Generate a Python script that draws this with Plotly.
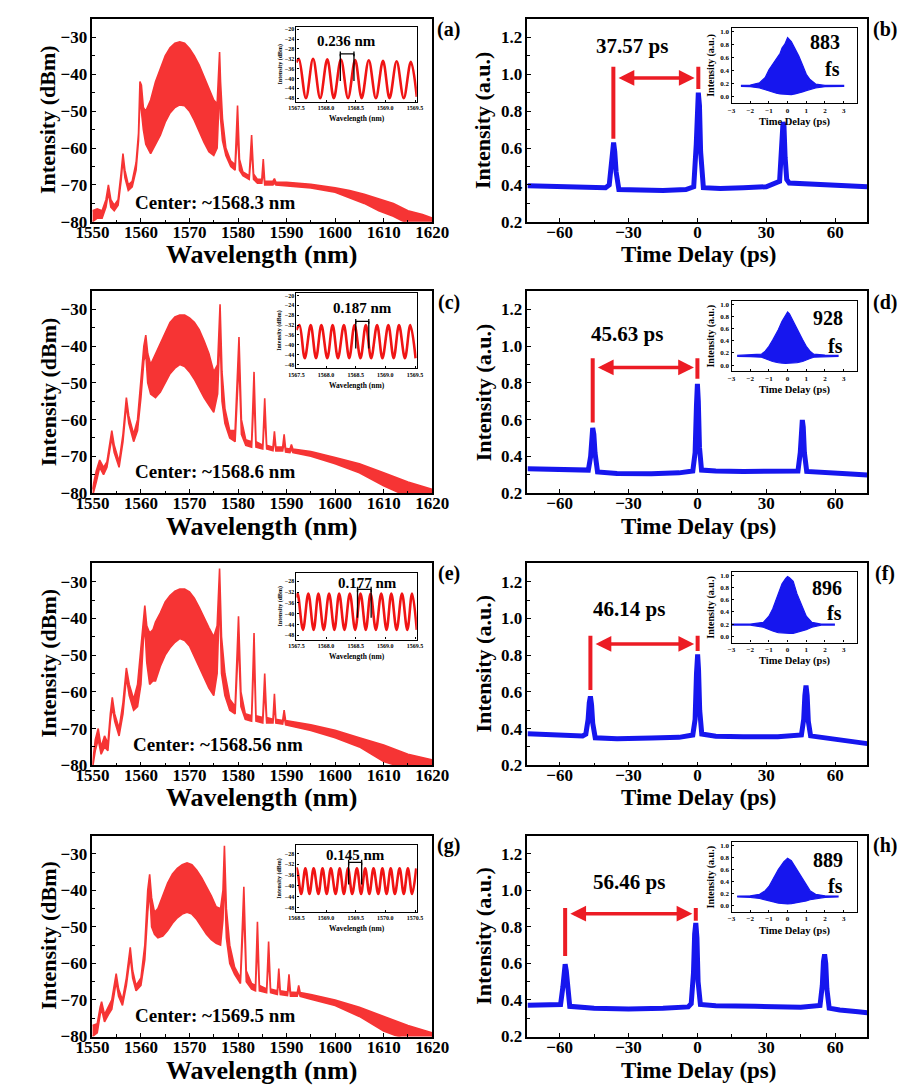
import plotly.graph_objects as go

W, H = 910, 1088
FONT = "Liberation Serif, Times New Roman, DejaVu Serif, serif"
RED = "rgb(246,52,52)"
IRED = "rgb(240,20,20)"
BLUE = "rgb(22,22,238)"
ARED = "rgb(236,28,36)"

# ---------------- spectra (envelopes of the fringe-filled traces) ----------------
wl_a = [1550, 1551, 1552, 1552.8, 1553.3, 1553.8, 1554.5, 1555.3, 1555.9, 1556.3, 1556.7, 1557.4, 1558.2, 1559.0,
        1559.5, 1559.8, 1560.1, 1560.5, 1561, 1562, 1563, 1564, 1565, 1566, 1567, 1568, 1569, 1570, 1571, 1572,
        1573, 1574, 1575, 1575.7, 1576.0, 1576.2, 1576.4, 1576.8, 1577.5, 1578.5, 1579.4, 1579.9, 1580.3, 1581,
        1582.3, 1582.8, 1583.2, 1584, 1584.9, 1585.2, 1585.5, 1587.2, 1587.5, 1587.8, 1590, 1595, 1600, 1603,
        1606, 1609, 1612, 1615, 1618, 1620]
up_a = [-77, -76.5, -77, -74, -70, -74, -75.5, -74, -67, -61.5, -66, -70, -69, -64,
        -56, -42, -43, -49, -50, -47, -42, -38.5, -35, -32.8, -31.6, -31.2, -31.6, -33, -35, -37.5,
        -40.5, -43.5, -47, -48, -40, -34, -42, -52, -60, -63.5, -64.5, -48.5, -63, -66.5,
        -67.5, -56.5, -67, -68.5, -68.5, -63, -69, -69, -68.3, -69.2, -69.3, -69.8, -70.8, -71.5,
        -72.5, -73.8, -75, -77, -78, -79]
lo_a = [-80, -79, -79, -76, -72, -76, -77, -75.5, -69, -63, -68, -71.5, -70.5, -66,
        -58, -46, -50, -55, -59, -61.5, -59, -56.5, -53, -50.5, -49, -48.3, -48.5, -50, -52.5, -55.5,
        -58.5, -61, -62, -60, -50, -42, -52, -58, -62, -65, -66, -55, -66, -67.5,
        -68.5, -60, -68.5, -69.5, -69.5, -66, -70, -70, -69.5, -70, -70.2, -70.8, -72, -73.5,
        -75, -77, -78.5, -80.5, -81, -81]

wl_c = [1550, 1550.8, 1551.5, 1552.3, 1553, 1553.6, 1554, 1554.5, 1555.5, 1556.3, 1557, 1557.5, 1558.5, 1559.3,
        1560, 1560.6, 1561, 1561.4, 1562, 1563, 1564, 1565, 1566, 1567, 1568, 1569, 1570, 1571, 1572, 1573,
        1574, 1575, 1575.8, 1576.3, 1576.7, 1577.3, 1578.3, 1579.4, 1580.2, 1580.7, 1581.6, 1582.8, 1583.3,
        1583.7, 1585.1, 1585.5, 1585.9, 1587.2, 1587.5, 1587.8, 1589.2, 1589.5, 1589.8, 1590.7, 1591, 1591.3,
        1595, 1600, 1605, 1610, 1615, 1620]
up_c = [-79, -74, -71, -73, -71.5, -66, -63, -67, -71.5, -64, -54, -59, -64, -60,
        -50, -40, -37, -42, -45, -42, -39, -36, -33.5, -32, -31.5, -31.5, -32.3, -33.5, -35.5, -38.5,
        -42, -47, -45, -28.6, -47, -57, -63, -63, -37.5, -60, -65.5, -66, -47,
        -66, -67, -54.2, -67, -67.5, -63.2, -67.5, -67.5, -64, -67.8, -68, -66.8, -68,
        -68.7, -70.3, -72, -74.5, -77, -79]
lo_c = [-81, -77, -73, -75, -73, -68, -65, -69, -73, -66, -56, -61, -66, -63,
        -54, -44, -42, -50, -53, -54, -52.5, -50, -47.5, -46, -45, -45.5, -47, -49, -51.5, -54,
        -56, -58, -53, -36, -55, -61, -65, -66, -44, -64, -67, -67.5, -53,
        -67.5, -68, -58, -68, -68.5, -65, -68.5, -68.5, -66, -68.8, -69, -68, -69,
        -70, -72, -74.5, -78, -81, -81]

wl_e = [1550, 1550.6, 1551.2, 1551.8, 1552.5, 1553.2, 1553.7, 1554.1, 1554.6, 1555.5, 1556.3, 1557, 1557.6,
        1558.5, 1559.3, 1560, 1560.5, 1560.8, 1561.2, 1561.8, 1562.5, 1563, 1564, 1565, 1566, 1567, 1568,
        1569, 1570, 1571, 1572, 1573, 1574, 1575, 1575.7, 1576.2, 1576.6, 1577.3, 1578.3, 1579.4, 1580.1,
        1580.6, 1581.5, 1582.8, 1583.3, 1583.7, 1585.1, 1585.5, 1585.9, 1587.2, 1587.5, 1587.8, 1589.2,
        1589.5, 1589.8, 1595, 1600, 1605, 1610, 1615, 1620]
up_e = [-80, -73, -70, -75, -72, -74, -66, -61.5, -66, -70, -63, -53.5, -58,
        -62, -58, -48, -39, -36.5, -42, -44, -43, -41, -38.5, -35.5, -33.8, -32.6, -32,
        -32, -32.8, -34.5, -37, -40, -42.5, -45, -42, -26.4, -45, -55, -62, -64, -39.4,
        -60, -66, -66.5, -44, -66.5, -67, -55, -67, -67.5, -60.5, -67.5, -67.8,
        -65, -67.8, -69, -70.5, -72.5, -74.5, -77, -78.5]
lo_e = [-81, -76, -73, -77, -75, -76, -68, -64, -68, -72, -66, -56, -61,
        -65, -64, -58, -46, -42, -52, -58, -57, -57, -53, -50, -48, -46.5, -45.5,
        -46, -47.5, -50, -53, -56, -59, -61, -55, -34, -55, -61, -65, -66, -46,
        -64, -67.5, -68, -50, -68, -68.5, -59, -68.5, -68.5, -63, -68.5, -68.8,
        -66.5, -69, -70.5, -72.5, -75, -79, -81, -81]

wl_g = [1550, 1551, 1551.6, 1551.9, 1552.5, 1553.3, 1554, 1554.9, 1555.4, 1556.2, 1557, 1557.8, 1558.3, 1559,
        1560, 1560.8, 1561.4, 1561.8, 1562.2, 1562.8, 1563.5, 1564.5, 1565.5, 1566.5, 1567.5, 1568.5, 1569.5,
        1570.5, 1571.5, 1572.5, 1573.5, 1574.5, 1575.5, 1576.4, 1576.9, 1577.2, 1577.6, 1578.3, 1579.3,
        1580.5, 1581.2, 1581.7, 1582.8, 1583.6, 1584, 1584.4, 1585.9, 1586.3, 1586.7, 1588.1, 1588.4, 1588.7,
        1590.2, 1590.5, 1590.8, 1592.2, 1592.5, 1592.8, 1595, 1600, 1605, 1610, 1615, 1620]
up_g = [-77, -76.5, -72, -70.5, -74, -72, -70, -62.8, -67, -70, -64, -55.6, -62, -66,
        -64, -55, -40, -35.6, -42, -46, -45, -41.5, -38, -35.5, -34, -33, -32.5,
        -33, -34.5, -36.5, -39, -41.5, -44.5, -45, -40, -27.8, -45, -55, -61,
        -64, -39, -62, -65.5, -66, -48.6, -66, -67, -54, -67, -67.5, -61.4, -67.5,
        -67.8, -63, -67.8, -68, -66, -68, -68.5, -70, -72, -74.5, -77, -79]
lo_g = [-80, -79, -74, -72.5, -76, -74, -72.5, -65, -69, -71.5, -66, -58, -64, -67.5,
        -66, -59, -46, -40, -50, -52, -53, -52.5, -51, -49, -47.5, -46.5, -46,
        -46.5, -48, -50, -52, -53.5, -54.5, -55, -48, -36, -53, -60, -63,
        -65.5, -45, -65, -67, -67.5, -54, -67.5, -68, -58, -68, -68.5, -64, -68.5,
        -68.8, -65.5, -69, -69, -67.5, -69, -69.8, -71.5, -74.5, -78.5, -81, -81]

# ---------------- inset fringe spectra ----------------
fr_a_x = [1567.50, 1567.54, 1567.66, 1567.78, 1567.90, 1568.02, 1568.13, 1568.25, 1568.37, 1568.49,
          1568.60, 1568.72, 1568.84, 1568.96, 1569.07, 1569.19, 1569.31, 1569.43, 1569.53]
fr_a_y = [-33.5, -32.0, -48.0, -32.0, -48.0, -32.2, -48.0, -32.3, -48.0, -32.5,
          -48.0, -32.6, -48.0, -32.8, -48.0, -33.0, -48.0, -33.2, -47.5]
fr_c_x = [1567.50, 1567.55, 1567.64, 1567.74, 1567.83, 1567.92, 1568.02, 1568.11, 1568.20, 1568.30, 1568.39,
          1568.48, 1568.58, 1568.67, 1568.76, 1568.86, 1568.95, 1569.05, 1569.14, 1569.23, 1569.33, 1569.42,
          1569.51]
fr_c_y = [-34.0, -32.0, -45.5, -32.0, -45.5, -32.0, -45.5, -32.0, -45.5, -32.0, -45.5,
          -32.0, -45.5, -32.0, -45.5, -32.0, -45.5, -32.0, -45.5, -32.0, -45.5, -32.0, -45.5]
fr_e_x = [1567.50, 1567.52, 1567.61, 1567.70, 1567.79, 1567.87, 1567.96, 1568.05, 1568.14, 1568.22, 1568.31,
          1568.40, 1568.49, 1568.58, 1568.67, 1568.75, 1568.84, 1568.93, 1569.02, 1569.10, 1569.19, 1569.28,
          1569.37, 1569.45, 1569.53]
fr_e_y = [-34.0, -32.5, -46.0, -32.5, -46.0, -32.5, -46.0, -32.5, -46.0, -32.5, -46.0,
          -32.5, -46.0, -32.5, -46.0, -32.5, -46.0, -32.5, -46.0, -32.5, -46.0, -32.5,
          -46.0, -32.5, -46.0]
fr_g_x = [1568.50, 1568.51, 1568.58, 1568.65, 1568.72, 1568.79, 1568.87, 1568.94, 1569.01, 1569.08, 1569.16,
          1569.23, 1569.30, 1569.37, 1569.44, 1569.52, 1569.59, 1569.66, 1569.73, 1569.80, 1569.88, 1569.95,
          1570.02, 1570.09, 1570.16, 1570.24, 1570.31, 1570.38, 1570.45, 1570.52]
fr_g_y = [-34.0, -33.5, -43.0, -33.5, -43.0, -33.5, -43.0, -33.5, -43.0, -33.5, -43.0,
          -33.5, -43.0, -33.5, -43.0, -33.5, -43.0, -33.5, -43.0, -33.5, -43.0, -33.5,
          -43.0, -33.5, -43.0, -33.5, -43.0, -33.5, -43.0, -33.5]

# bracket: [x_left, x_right, y_bar, y_bottom]; label text, label position
br_a = [1568.24, 1568.47, -30.0, -41.0]
br_c = [1568.50, 1568.72, -30.5, -41.5]
br_e = [1568.53, 1568.76, -31.0, -41.5]
br_g = [1569.38, 1569.60, -31.3, -39.5]
fsr_labels = ["0.236 nm", "0.187 nm", "0.177 nm", "0.145 nm"]
fsr_pos = [(1568.35, -24.8), (1568.62, -25.2), (1568.70, -28.6), (1569.50, -28.4)]
center_labels = ["Center: ~1568.3 nm", "Center: ~1568.6 nm", "Center: ~1568.56 nm", "Center: ~1569.5 nm"]
center_pos = [(1575.2, -74.8), (1575.3, -74.2), (1575.9, -74.4), (1575.3, -74.2)]

# ---------------- autocorrelation traces ----------------
t_b = [-74, -60, -50, -40, -38.4, -37.4, -36.9, -36.5, -36.0, -35.4, -34.2, -25, -15, -5, -1.6, -0.5, 0.0, 0.4,
       0.9, 1.4, 2.6, 10, 20, 30, 35.8, 36.8, 37.3, 37.7, 38.2, 38.9, 40, 50, 60, 74]
I_b = [0.395, 0.392, 0.39, 0.385, 0.40, 0.52, 0.60, 0.63, 0.58, 0.47, 0.375, 0.37, 0.37, 0.375, 0.39, 0.62, 0.86,
       0.90, 0.83, 0.58, 0.385, 0.38, 0.385, 0.39, 0.42, 0.62, 0.74, 0.72, 0.55, 0.43, 0.41, 0.405, 0.40, 0.39]
t_d = [-74, -60, -50, -47.5, -46.5, -46.0, -45.6, -45.1, -44.6, -43.5, -35, -20, -8, -2, -1, -0.4, 0, 0.4, 0.9,
       1.8, 8, 20, 35, 43.8, 44.8, 45.3, 45.7, 46.1, 46.6, 47.6, 55, 65, 74]
I_d = [0.332, 0.325, 0.32, 0.325, 0.40, 0.50, 0.555, 0.52, 0.42, 0.315, 0.307, 0.305, 0.31, 0.32, 0.42, 0.68,
       0.795, 0.70, 0.45, 0.325, 0.32, 0.318, 0.318, 0.32, 0.42, 0.55, 0.598, 0.56, 0.42, 0.318, 0.31, 0.305, 0.298]
t_f = [-74, -60, -50, -48.6, -47.6, -47.1, -46.6, -46.1, -45.6, -44.5, -35, -20, -8, -2, -1, -0.4, 0.1, 0.5, 1.0,
       1.9, 8, 20, 35, 45.3, 46.3, 46.8, 47.3, 47.8, 48.3, 49.3, 55, 65, 74]
I_f = [0.372, 0.365, 0.36, 0.37, 0.45, 0.54, 0.575, 0.53, 0.43, 0.35, 0.345, 0.348, 0.352, 0.365, 0.45, 0.70,
       0.804, 0.72, 0.50, 0.37, 0.358, 0.356, 0.355, 0.365, 0.45, 0.58, 0.634, 0.58, 0.44, 0.36, 0.35, 0.33, 0.318]
t_h = [-74, -65, -59.6, -58.6, -58.1, -57.6, -57.1, -56.6, -55.6, -45, -30, -15, -4, -2.7, -1.7, -1.2, -0.7,
       -0.2, 0.3, 1.3, 8, 25, 45, 53.4, 54.4, 54.9, 55.4, 55.9, 56.4, 57.4, 62, 70, 74]
I_h = [0.371, 0.37, 0.375, 0.47, 0.57, 0.596, 0.56, 0.46, 0.365, 0.355, 0.35, 0.355, 0.362, 0.38, 0.55, 0.76,
       0.822, 0.74, 0.5, 0.375, 0.368, 0.365, 0.36, 0.37, 0.48, 0.61, 0.65, 0.6, 0.46, 0.355, 0.345, 0.335, 0.33]

# pulse separation markers: left bar x, [y0,y1]; right bar x, [y0,y1]; arrow y, x_from, x_to
sep_b = dict(lx=-36.6, ly=[0.65, 1.04], rx=0.4, ry=[0.92, 1.04], ay=0.98, ax0=-35.0, ax1=-1.2)
sep_d = dict(lx=-45.6, ly=[0.585, 0.935], rx=0.0, ry=[0.823, 0.935], ay=0.884, ax0=-44.0, ax1=-1.5)
sep_f = dict(lx=-46.6, ly=[0.61, 0.906], rx=0.1, ry=[0.822, 0.906], ay=0.861, ax0=-45.0, ax1=-1.4)
sep_h = dict(lx=-57.6, ly=[0.641, 0.903], rx=-0.7, ry=[0.834, 0.903], ay=0.872, ax0=-56.0, ax1=-2.2)
sep_labels = ["37.57 ps", "45.63 ps", "46.14 ps", "56.46 ps"]
sep_label_pos = [(-28.5, 1.155), (-30.5, 1.065), (-29.8, 1.05), (-29.8, 1.047)]

# ---------------- inset autocorrelation envelopes ----------------
ac_t_b = [-2.5, -2.0, -1.5, -1.2, -1.0, -0.8, -0.6, -0.4, -0.3, -0.15, 0.0, 0.2, 0.4, 0.6, 0.8, 1.0, 1.2, 1.5, 2.0, 2.5, 3.0]
ac_up_b = [0.17, 0.175, 0.21, 0.29, 0.41, 0.50, 0.58, 0.66, 0.74, 0.80, 0.90, 0.84, 0.73, 0.62, 0.48, 0.34, 0.26, 0.19, 0.17, 0.17, 0.17]
ac_lo_b = [0.155, 0.15, 0.13, 0.11, 0.09, 0.07, 0.05, 0.04, 0.035, 0.03, 0.03, 0.03, 0.04, 0.05, 0.07, 0.09, 0.11, 0.13, 0.15, 0.155, 0.155]
ac_t_d = [-2.7, -2.0, -1.4, -1.2, -1.0, -0.8, -0.5, -0.3, -0.1, 0.0, 0.1, 0.3, 0.5, 0.8, 1.0, 1.2, 1.4, 2.0, 2.7]
ac_up_d = [0.16, 0.165, 0.18, 0.23, 0.31, 0.41, 0.58, 0.72, 0.83, 0.87, 0.84, 0.73, 0.60, 0.42, 0.31, 0.23, 0.18, 0.165, 0.16]
ac_lo_d = [0.145, 0.14, 0.13, 0.11, 0.08, 0.06, 0.04, 0.035, 0.03, 0.03, 0.03, 0.035, 0.04, 0.06, 0.08, 0.11, 0.13, 0.14, 0.145]
ac_t_f = [-3.0, -2.0, -1.3, -1.0, -0.8, -0.5, -0.3, -0.1, 0.0, 0.1, 0.3, 0.5, 0.8, 1.0, 1.3, 1.8, 2.5]
ac_up_f = [0.2, 0.2, 0.23, 0.33, 0.45, 0.70, 0.86, 0.95, 0.98, 0.96, 0.90, 0.70, 0.46, 0.33, 0.23, 0.2, 0.2]
ac_lo_f = [0.185, 0.185, 0.15, 0.11, 0.09, 0.06, 0.05, 0.05, 0.05, 0.05, 0.05, 0.06, 0.09, 0.11, 0.15, 0.185, 0.185]
ac_t_h = [-2.7, -2.0, -1.5, -1.2, -1.0, -0.7, -0.5, -0.2, 0.0, 0.2, 0.5, 0.7, 1.0, 1.2, 1.5, 2.0, 2.7]
ac_up_h = [0.16, 0.165, 0.19, 0.25, 0.32, 0.48, 0.60, 0.73, 0.79, 0.75, 0.60, 0.48, 0.33, 0.25, 0.19, 0.165, 0.16]
ac_lo_h = [0.145, 0.14, 0.12, 0.10, 0.08, 0.06, 0.045, 0.035, 0.03, 0.035, 0.045, 0.06, 0.08, 0.10, 0.12, 0.14, 0.145]
fwhm_labels = ["883", "928", "896", "889"]
fwhm_pos = [(2.9, 0.84, 0.42), (3.05, 0.78, 0.32), (3.0, 0.79, 0.39), (3.05, 0.76, 0.33)]
panel_labels = ["(a)", "(b)", "(c)", "(d)", "(e)", "(f)", "(g)", "(h)"]

# ---------------- layout geometry (pixels) ----------------
ROW = [0, 275, 549, 824]
MAIN_L = (70, 423)
MAIN_R = (522, 875)
MAIN_Y = [(10, 215), (285, 489), (560, 764), (835, 1038)]
INS_L_X = (282, 407)
INS_L_Y = [(18, 94), (287, 363), (570, 637), (845, 912)]
INS_R_X = (734, 864)
INS_R_Y = [(19, 95), (295, 366), (569, 640), (842, 912)]

fig = go.Figure()
ann = []
shp = []


def px(x):
    return x / W


def py(y):
    return 1 - y / H


def axname(i):
    return ("xaxis", "yaxis") if i == 1 else (f"xaxis{i}", f"yaxis{i}")


def ref(i):
    return ("x", "y") if i == 1 else (f"x{i}", f"y{i}")


def set_axes(i, xb, yb, xr, yr, xt, yt, tsize, tlen, minor_x=None, minor_y=None, lw=1.5, xstand=0):
    xn, yn = axname(i)
    xr_, yr_ = ref(i)
    tf = dict(family=FONT, size=tsize, color="black", weight="bold")
    common = dict(showgrid=False, zeroline=False, showline=True, linecolor="black", linewidth=lw,
                  mirror=True, ticks="inside", ticklen=tlen, tickwidth=1.2, tickcolor="black", tickfont=tf)
    xa = dict(common, domain=[px(xb[0]), px(xb[1])], range=xr, anchor=yr_, ticklabelstandoff=xstand, **xt)
    ya = dict(common, domain=[py(yb[1]), py(yb[0])], range=yr, anchor=xr_, **yt)
    if minor_x:
        xa["minor"] = dict(ticks="inside", ticklen=tlen * 0.6, dtick=minor_x, tickcolor="black")
    if minor_y:
        ya["minor"] = dict(ticks="inside", ticklen=tlen * 0.6, dtick=minor_y, tickcolor="black")
    fig.layout[xn] = xa
    fig.layout[yn] = ya


def text(x, y, s, size, xref="paper", yref="paper", angle=0, xanchor="center", yanchor="middle"):
    ann.append(dict(x=x, y=y, xref=xref, yref=yref, text=s, showarrow=False, textangle=angle,
                    xanchor=xanchor, yanchor=yanchor,
                    font=dict(family=FONT, size=size, color="black", weight="bold")))


spectra = [(wl_a, up_a, lo_a), (wl_c, up_c, lo_c), (wl_e, up_e, lo_e), (wl_g, up_g, lo_g)]
fringes = [(fr_a_x, fr_a_y), (fr_c_x, fr_c_y), (fr_e_x, fr_e_y), (fr_g_x, fr_g_y)]
brackets = [br_a, br_c, br_e, br_g]
ins_xr = [[1567.5, 1569.53], [1567.5, 1569.53], [1567.5, 1569.53], [1568.5, 1570.53]]
ins_yr = [[-49.6, -19], [-49.6, -19], [-49.6, -25], [-49.6, -25]]
ins_tick0 = [-48, -48, -48, -48]
traces_t = [(t_b, I_b), (t_d, I_d), (t_f, I_f), (t_h, I_h)]
seps = [sep_b, sep_d, sep_f, sep_h]
acs = [(ac_t_b, ac_up_b, ac_lo_b), (ac_t_d, ac_up_d, ac_lo_d), (ac_t_f, ac_up_f, ac_lo_f), (ac_t_h, ac_up_h, ac_lo_h)]

for r in range(4):
    R = ROW[r]
    iS, iSi, iT, iTi = 4 * r + 1, 4 * r + 2, 4 * r + 3, 4 * r + 4

    # ----- spectrum main -----
    wl, up, lo = spectra[r]
    xs, ys = ref(iS)
    fig.add_trace(go.Scatter(x=wl + wl[::-1], y=up + lo[::-1], mode="lines", fill="toself",
                             fillcolor=RED, line=dict(color=RED, width=1.6), xaxis=xs, yaxis=ys,
                             showlegend=False, hoverinfo="skip"))
    set_axes(iS, MAIN_L, MAIN_Y[r], [1550, 1620], [-80, -25],
             dict(tick0=1550, dtick=10), dict(tick0=-80, dtick=10), 17, 4, minor_x=5, minor_y=5, xstand=-6)
    cx, cy = center_pos[r]
    text(cx, cy, center_labels[r], 19, xref=xs, yref=ys)

    # ----- spectrum inset -----
    fx, fy = fringes[r]
    xs2, ys2 = ref(iSi)
    fig.add_trace(go.Scatter(x=fx, y=fy, mode="lines", line=dict(color=IRED, width=2.6, shape="spline", smoothing=1.0),
                             xaxis=xs2, yaxis=ys2, showlegend=False, hoverinfo="skip"))
    set_axes(iSi, INS_L_X, INS_L_Y[r], ins_xr[r], ins_yr[r],
             dict(tick0=ins_xr[r][0], dtick=0.5, tickformat=".1f"),
             dict(tick0=ins_tick0[r], dtick=4), 6, 2, lw=1.2)
    b = brackets[r]
    for (x0, y0, x1, y1) in [(b[0], b[2], b[1], b[2]), (b[0], b[2], b[0], b[3]), (b[1], b[2], b[1], b[3])]:
        shp.append(dict(type="line", x0=x0, y0=y0, x1=x1, y1=y1, xref=xs2, yref=ys2,
                        line=dict(color="black", width=1.3)))
    for xc in (b[0], b[1]):
        shp.append(dict(type="line", x0=xc, y0=b[2] + 1.0, x1=xc, y1=b[2] - 1.0, xref=xs2, yref=ys2,
                        line=dict(color="black", width=1.3)))
    lx, ly = fsr_pos[r]
    text(lx, ly, fsr_labels[r], 15, xref=xs2, yref=ys2)
    # inset axis titles
    text(px((INS_L_X[0] + INS_L_X[1]) / 2), py(INS_L_Y[r][1] + 17), "Wavelength (nm)", 7.5)
    text(px(INS_L_X[0] - 17), py((INS_L_Y[r][0] + INS_L_Y[r][1]) / 2), "Intensity (dBm)", 6, angle=-90)

    # ----- time-domain main -----
    tt, ii = traces_t[r]
    xs3, ys3 = ref(iT)
    fig.add_trace(go.Scatter(x=tt, y=ii, mode="lines", line=dict(color=BLUE, width=5),
                             xaxis=xs3, yaxis=ys3, showlegend=False, hoverinfo="skip"))
    set_axes(iT, MAIN_R, MAIN_Y[r], [-74, 74], [0.2, 1.3],
             dict(tickvals=[-60, -30, 0, 30, 60]), dict(tick0=0.2, dtick=0.2, tickformat=".1f"), 17, 4,
             minor_x=15, minor_y=0.1, xstand=-6)
    s = seps[r]
    shp.append(dict(type="line", x0=s["lx"], x1=s["lx"], y0=s["ly"][0], y1=s["ly"][1], xref=xs3, yref=ys3,
                    line=dict(color=ARED, width=4)))
    shp.append(dict(type="line", x0=s["rx"], x1=s["rx"], y0=s["ry"][0], y1=s["ry"][1], xref=xs3, yref=ys3,
                    line=dict(color=ARED, width=4)))
    ann.append(dict(x=s["ax1"], y=s["ay"], ax=s["ax0"], ay=s["ay"], xref=xs3, yref=ys3, axref=xs3, ayref=ys3,
                    text="", showarrow=True, arrowhead=2, arrowside="end+start", arrowsize=0.9,
                    arrowwidth=3.5, arrowcolor=ARED))
    sx, sy = sep_label_pos[r]
    text(sx, sy, sep_labels[r], 21, xref=xs3, yref=ys3)

    # ----- time-domain inset -----
    at, au, al = acs[r]
    xs4, ys4 = ref(iTi)
    fig.add_trace(go.Scatter(x=at + at[::-1], y=au + al[::-1], mode="lines", fill="toself", fillcolor=BLUE,
                             line=dict(color=BLUE, width=1.2), xaxis=xs4, yaxis=ys4,
                             showlegend=False, hoverinfo="skip"))
    set_axes(iTi, INS_R_X, INS_R_Y[r], [-3, 3.7], [-0.1, 1.05],
             dict(tickvals=[-3, -2, -1, 0, 1, 2, 3]), dict(tick0=0, dtick=0.2, tickformat=".1f"), 7, 2, lw=1.2)
    fxp, fy1, fy2 = fwhm_pos[r]
    text(fxp, fy1, fwhm_labels[r], 20, xref=xs4, yref=ys4, xanchor="right")
    text(fxp, fy2, "fs", 20, xref=xs4, yref=ys4, xanchor="right")
    text(px((INS_R_X[0] + INS_R_X[1]) / 2), py(INS_R_Y[r][1] + 19), "Time Delay (ps)", 10.5)
    text(px(INS_R_X[0] - 21), py((INS_R_Y[r][0] + INS_R_Y[r][1]) / 2), "Intensity (a.u.)", 10, angle=-90)

    # ----- main axis titles and panel labels -----
    text(px(246), py(248 + R), "Wavelength (nm)", 26)
    text(px(24), py(112 + R), "Intensity (dBm)", 22, angle=-90)
    text(px(700), py(248 + R), "Time Delay (ps)", 23)
    text(px(476), py(112 + R), "Intensity (a.u.)", 22, angle=-90)
    text(px(440), py(21 + R), panel_labels[2 * r], 20)
    text(px(893), py(21 + R), panel_labels[2 * r + 1], 20)

fig.update_layout(width=W, height=H, margin=dict(l=0, r=0, t=0, b=0), paper_bgcolor="white",
                  plot_bgcolor="white", annotations=ann, shapes=shp, showlegend=False)
fig.write_html("out.html")
